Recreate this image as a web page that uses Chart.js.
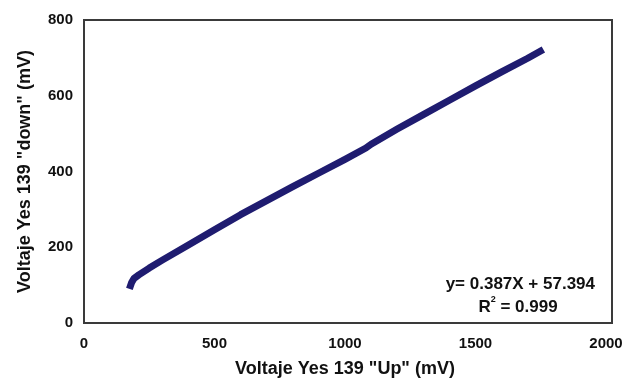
<!DOCTYPE html>
<html>
<head>
<meta charset="utf-8">
<script src="https://cdn.jsdelivr.net/npm/chart.js@4/dist/chart.umd.min.js"></script>
<style>
  html, body { margin: 0; padding: 0; background: #fff; }
  #wrap { width: 630px; height: 381px; }
</style>
</head>
<body>
<div id="wrap"><canvas id="chart"></canvas></div>
<script>
// readings
const upVoltage = [174, 182, 192, 210, 250, 300, 400, 500, 600, 700, 800, 900, 1000, 1080, 1100, 1200, 1300, 1400, 1500, 1600, 1700, 1760];
const downVoltage = [90, 106, 118, 127, 145, 166, 206, 246, 286, 323, 360, 396, 432, 462, 472, 512, 550, 588, 626, 663, 699, 722];
const xTicks = [0, 500, 1000, 1500, 2000];
const yTicks = [0, 200, 400, 600, 800];
const eqText = 'y= 0.387X + 57.394';
const r2Value = '0.999';

const points = upVoltage.map((x, i) => ({ x: x, y: downVoltage[i] }));
const font = 'Liberation Sans, Arial, sans-serif';

// box round the plot area (a bit wider on the right, like the original) and the regression text
const extras = {
    id: 'extras',
    afterDraw(chart) {
        const c = chart.ctx;
        const a = chart.chartArea;
        c.save();
        c.strokeStyle = '#3a3a3a';
        c.lineWidth = 2;
        c.strokeRect(a.left, a.top, a.right + 6 - a.left, a.bottom - a.top);

        c.fillStyle = '#111';
        c.textBaseline = 'middle';
        c.font = 'bold 17px ' + font;
        c.textAlign = 'right';
        c.fillText(eqText, 595, 284);

        // R² line, centered
        const rest = ' = ' + r2Value;
        c.textAlign = 'left';
        const wR = c.measureText('R').width;
        const wRest = c.measureText(rest).width;
        c.font = 'bold 9px ' + font;
        const wSup = c.measureText('2').width;
        let x = 518 - (wR + wSup + wRest) / 2;
        c.font = 'bold 17px ' + font;
        c.fillText('R', x, 307);
        x += wR;
        c.font = 'bold 9px ' + font;
        c.fillText('2', x, 300);
        x += wSup;
        c.font = 'bold 17px ' + font;
        c.fillText(rest, x, 307);
        c.restore();
    }
};

new Chart(document.getElementById('chart'), {
    type: 'scatter',
    data: {
        datasets: [{
            data: points,
            showLine: true,
            borderColor: '#1f1c70',
            borderWidth: 7,
            pointRadius: 0,
            tension: 0,
            borderCapStyle: 'butt',
            borderJoinStyle: 'round'
        }]
    },
    options: {
        responsive: true,
        maintainAspectRatio: false,
        animation: false,
        layout: { padding: { top: 16, right: 24, bottom: 0, left: 0 } },
        plugins: { legend: { display: false }, tooltip: { enabled: false } },
        scales: {
            x: {
                type: 'linear',
                min: 0, max: 2000,
                afterBuildTicks: (s) => { s.ticks = xTicks.map(v => ({ value: v })); },
                afterFit: (s) => { s.height = 58; s.paddingRight = 0; s.paddingLeft = 0; },
                grid: { display: false, drawTicks: false },
                border: { display: false },
                ticks: {
                    padding: 12, color: '#111',
                    font: { family: font, size: 15, weight: 'bold' },
                    callback: (v) => String(v)
                },
                title: {
                    display: true,
                    text: 'Voltaje Yes 139 "Up" (mV)',
                    color: '#111',
                    font: { family: font, size: 18, weight: 'bold' },
                    padding: { top: 0, bottom: 1 }
                }
            },
            y: {
                type: 'linear',
                min: 0, max: 800,
                afterBuildTicks: (s) => { s.ticks = yTicks.map(v => ({ value: v })); },
                afterFit: (s) => { s.width = 84; },
                grid: { display: false, drawTicks: false },
                border: { display: false },
                ticks: {
                    padding: 11, color: '#111',
                    font: { family: font, size: 15, weight: 'bold' },
                    callback: (v) => String(v)
                },
                title: {
                    display: true,
                    text: 'Voltaje Yes 139 "down" (mV)',
                    color: '#111',
                    font: { family: font, size: 18, weight: 'bold' },
                    padding: { top: 14, bottom: 0 }
                }
            }
        }
    },
    plugins: [extras]
});
</script>
</body>
</html>
